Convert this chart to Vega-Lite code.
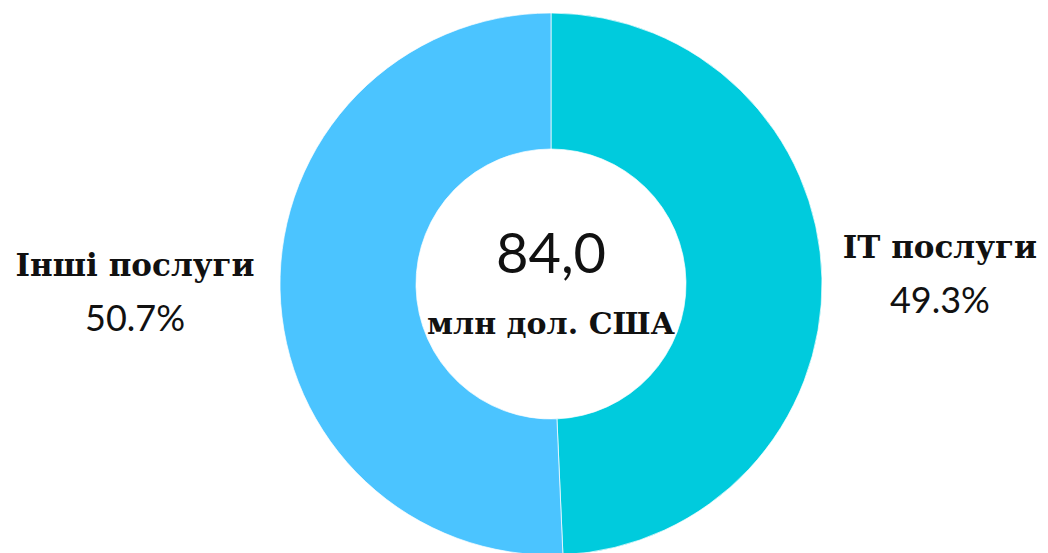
{
  "$schema": "https://vega.github.io/schema/vega-lite/v6.json",
  "width": 994,
  "height": 538,
  "autosize": {"type": "none"},
  "padding": {"left": 54, "top": 15, "right": 0, "bottom": 0},
  "background": "white",
  "view": {"stroke": null},
  "data": {"values": [
    {"category": "IT послуги", "share": 49.3, "label": "49.3%", "order": 1},
    {"category": "Інші послуги", "share": 50.7, "label": "50.7%", "order": 2}
  ]},
  "encoding": {
    "theta": {"field": "share", "type": "quantitative", "stack": true},
    "order": {"field": "order", "type": "ordinal"}
  },
  "layer": [
    {
      "mark": {"type": "arc", "radius": 271, "radius2": 135, "stroke": "#ffffff", "strokeWidth": 0.7},
      "encoding": {
        "color": {"field": "category", "type": "nominal", "legend": null,
          "scale": {"domain": ["IT послуги", "Інші послуги"], "range": ["#00CBDD", "#4BC4FF"]}}
      }
    },
    {
      "mark": {"type": "text", "radius": 389, "dy": -26, "font": "DejaVu Serif", "fontWeight": "bold", "fontSize": 31, "color": "#111111"},
      "encoding": {"text": {"condition": {"test": "datum.order == 1", "field": "category"}, "value": ""}}
    },
    {
      "mark": {"type": "text", "radius": 389, "dy": 27, "font": "Lato", "fontSize": 36, "color": "#111111"},
      "encoding": {"text": {"condition": {"test": "datum.order == 1", "field": "label"}, "value": ""}}
    },
    {
      "mark": {"type": "text", "radius": 416, "dy": -26, "font": "DejaVu Serif", "fontWeight": "bold", "fontSize": 31, "color": "#111111"},
      "encoding": {"text": {"condition": {"test": "datum.order == 2", "field": "category"}, "value": ""}}
    },
    {
      "mark": {"type": "text", "radius": 416, "dy": 27, "font": "Lato", "fontSize": 36, "color": "#111111"},
      "encoding": {"text": {"condition": {"test": "datum.order == 2", "field": "label"}, "value": ""}}
    },
    {
      "data": {"values": [{"total": "84,0", "unit": "млн дол. США"}]},
      "mark": {"type": "text", "dy": -28, "font": "Lato", "fontSize": 56, "color": "#111111"},
      "encoding": {"text": {"field": "total"}, "theta": null, "order": null}
    },
    {
      "data": {"values": [{"total": "84,0", "unit": "млн дол. США"}]},
      "mark": {"type": "text", "dy": 41, "font": "DejaVu Serif", "fontWeight": "bold", "fontSize": 30, "color": "#111111"},
      "encoding": {"text": {"field": "unit"}, "theta": null, "order": null}
    }
  ]
}
